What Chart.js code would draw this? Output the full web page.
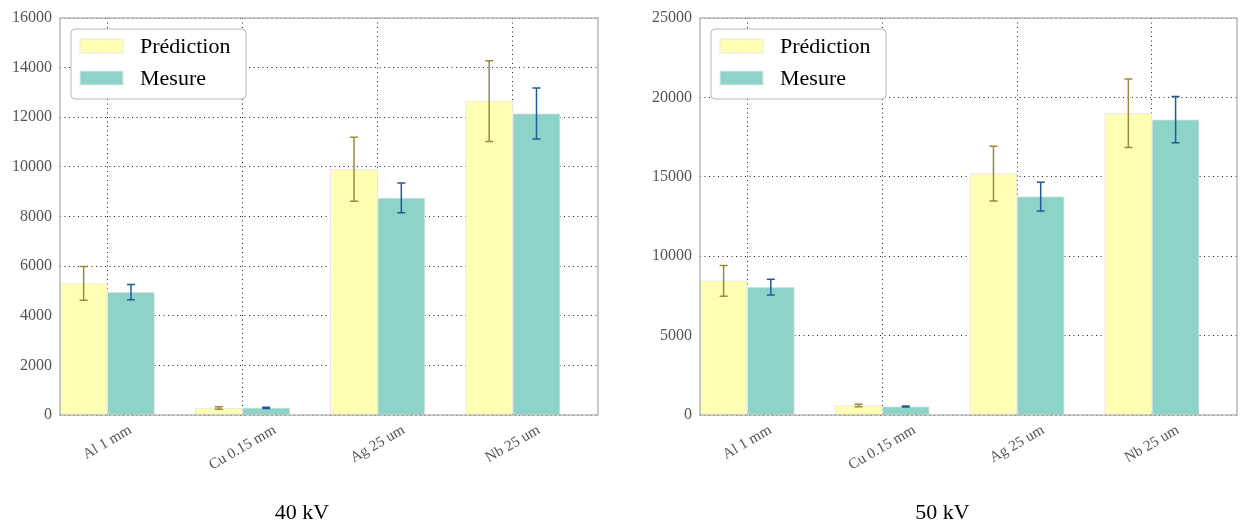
<!DOCTYPE html>
<html>
<head>
<meta charset="utf-8">
<script src="https://cdn.jsdelivr.net/npm/chart.js@4"></script>
<style>
  html, body { margin: 0; padding: 0; background: #fff; }
  .panel { position: absolute; top: 0; width: 620px; height: 530px; }
</style>
</head>
<body>
<div class="panel" style="left:0"><canvas id="chart40"></canvas></div>
<div class="panel" style="left:620px"><canvas id="chart50"></canvas></div>
<script>
const categories = ["Al 1 mm", "Cu 0.15 mm", "Ag 25 um", "Nb 25 um"];
const seriesNames = ["Prédiction", "Mesure"];

// 40 kV
const pred40 = [5300, 280, 9900, 12650];
const pred40Err = [680, 50, 1290, 1630];
const mes40 = [4950, 290, 8750, 12150];
const mes40Err = [310, 25, 600, 1030];

// 50 kV
const pred50 = [8450, 600, 15200, 19000];
const pred50Err = [970, 80, 1730, 2160];
const mes50 = [8050, 530, 13750, 18600];
const mes50Err = [500, 30, 910, 1460];

const fillColors = ["#ffffb3", "#8dd3c7"];
const errColors = ["#9b8a3a", "#1f5b99"];
const serif = '"Liberation Serif", "DejaVu Serif", serif';

// error bars, frame, rotated category labels and the boxed legend
const extras = {
  id: "extras",
  afterDatasetsDraw(chart) {
    const ctx = chart.ctx;
    const y = chart.scales.y;
    chart.data.datasets.forEach((ds, d) => {
      const meta = chart.getDatasetMeta(d);
      ds.errors.forEach((e, i) => {
        const bar = meta.data[i];
        const v = ds.data[i].y;
        const top = y.getPixelForValue(v + e);
        const bot = y.getPixelForValue(v - e);
        ctx.save();
        ctx.strokeStyle = errColors[d];
        ctx.lineWidth = 1.5;
        ctx.beginPath();
        ctx.moveTo(bar.x, top); ctx.lineTo(bar.x, bot);
        ctx.moveTo(bar.x - 4, top); ctx.lineTo(bar.x + 4, top);
        ctx.moveTo(bar.x - 4, bot); ctx.lineTo(bar.x + 4, bot);
        ctx.stroke();
        ctx.restore();
      });
    });
  },
  afterDraw(chart) {
    const ctx = chart.ctx;
    const a = chart.chartArea;
    const x = chart.scales.x;

    // frame
    ctx.save();
    ctx.strokeStyle = "#b0b0b0";
    ctx.lineWidth = 1.3;
    ctx.strokeRect(a.left, a.top, a.right - a.left, a.bottom - a.top);

    // category labels, rotated 30 degrees and centred on the tick
    ctx.font = "15px " + serif;
    ctx.fillStyle = "#555";
    ctx.textAlign = "center";
    ctx.textBaseline = "middle";
    categories.forEach((c, i) => {
      const w = ctx.measureText(c).width;
      const h = 14;
      const bh = w * 0.5 + h * 0.866;
      const cx = x.getPixelForValue(i);
      const cy = a.bottom + 8 + bh / 2;
      ctx.save();
      ctx.translate(cx, cy);
      ctx.rotate(-Math.PI / 6);
      ctx.fillText(c, 0, 0);
      ctx.restore();
    });

    // legend box
    const lx = a.left + 11, ly = a.top + 11, lw = 175, lh = 70;
    ctx.beginPath();
    ctx.roundRect(lx, ly, lw, lh, 4);
    ctx.fillStyle = "#fff";
    ctx.fill();
    ctx.strokeStyle = "#b8b8b8";
    ctx.lineWidth = 1;
    ctx.stroke();
    ctx.font = "22px " + serif;
    ctx.textAlign = "left";
    ctx.textBaseline = "middle";
    chart.data.datasets.forEach((ds, d) => {
      const cy = ly + 17 + d * 32;
      ctx.fillStyle = ds.backgroundColor;
      ctx.fillRect(lx + 9, cy - 7, 43, 14);
      ctx.strokeStyle = "#e8e8e8";
      ctx.strokeRect(lx + 9, cy - 7, 43, 14);
      ctx.fillStyle = "#000";
      ctx.fillText(ds.label, lx + 69, cy + 1);
    });
    ctx.restore();
  }
};

function makeChart(id, pred, predErr, mes, mesErr, yMax, yStep, title, padLeft, padRight, yWidth) {
  const ctx = document.getElementById(id).getContext("2d");
  new Chart(ctx, {
    type: "bar",
    data: {
      datasets: [
        {
          label: seriesNames[0],
          data: pred.map((v, i) => ({ x: i - 0.175, y: v })),
          errors: predErr,
          backgroundColor: fillColors[0],
          borderColor: "#e6e6e6",
          borderWidth: 1,
          grouped: false,
          barPercentage: 1,
          categoryPercentage: 1
        },
        {
          label: seriesNames[1],
          data: mes.map((v, i) => ({ x: i + 0.175, y: v })),
          errors: mesErr,
          backgroundColor: fillColors[1],
          borderColor: "#e6e6e6",
          borderWidth: 1,
          grouped: false,
          barPercentage: 1,
          categoryPercentage: 1
        }
      ]
    },
    options: {
      responsive: true,
      maintainAspectRatio: false,
      animation: false,
      layout: { padding: { left: padLeft, right: padRight, top: 18, bottom: 3.6 } },
      plugins: {
        legend: { display: false },
        tooltip: { enabled: false },
        title: {
          display: true,
          text: title,
          position: "bottom",
          color: "#000",
          font: { family: serif, size: 22, weight: "normal" },
          padding: { top: 0, bottom: 0 }
        }
      },
      scales: {
        x: {
          type: "linear",
          min: -0.35,
          max: 3.63,
          offset: false,
          afterBuildTicks: (axis) => { axis.ticks = categories.map((c, i) => ({ value: i })); },
          afterFit: (axis) => { axis.height = 85; },
          ticks: { display: false },
          grid: { offset: false, drawTicks: false, color: "#222", lineWidth: 1 },
          border: { display: false, dash: [1, 3.5] }
        },
        y: {
          min: 0,
          max: yMax,
          afterFit: (axis) => { axis.width = yWidth; },
          ticks: {
            stepSize: yStep,
            padding: 8,
            color: "#555",
            font: { family: serif, size: 16 },
            callback: (v) => String(v)
          },
          grid: { drawTicks: false, color: "#222", lineWidth: 1 },
          border: { display: false, dash: [1, 3.5] }
        }
      }
    },
    plugins: [extras]
  });
}

makeChart("chart40", pred40, pred40Err, mes40, mes40Err, 16000, 2000, "40 kV", 6, 22, 54);
makeChart("chart50", pred50, pred50Err, mes50, mes50Err, 25000, 5000, "50 kV", 28, 3, 52);
</script>
</body>
</html>
